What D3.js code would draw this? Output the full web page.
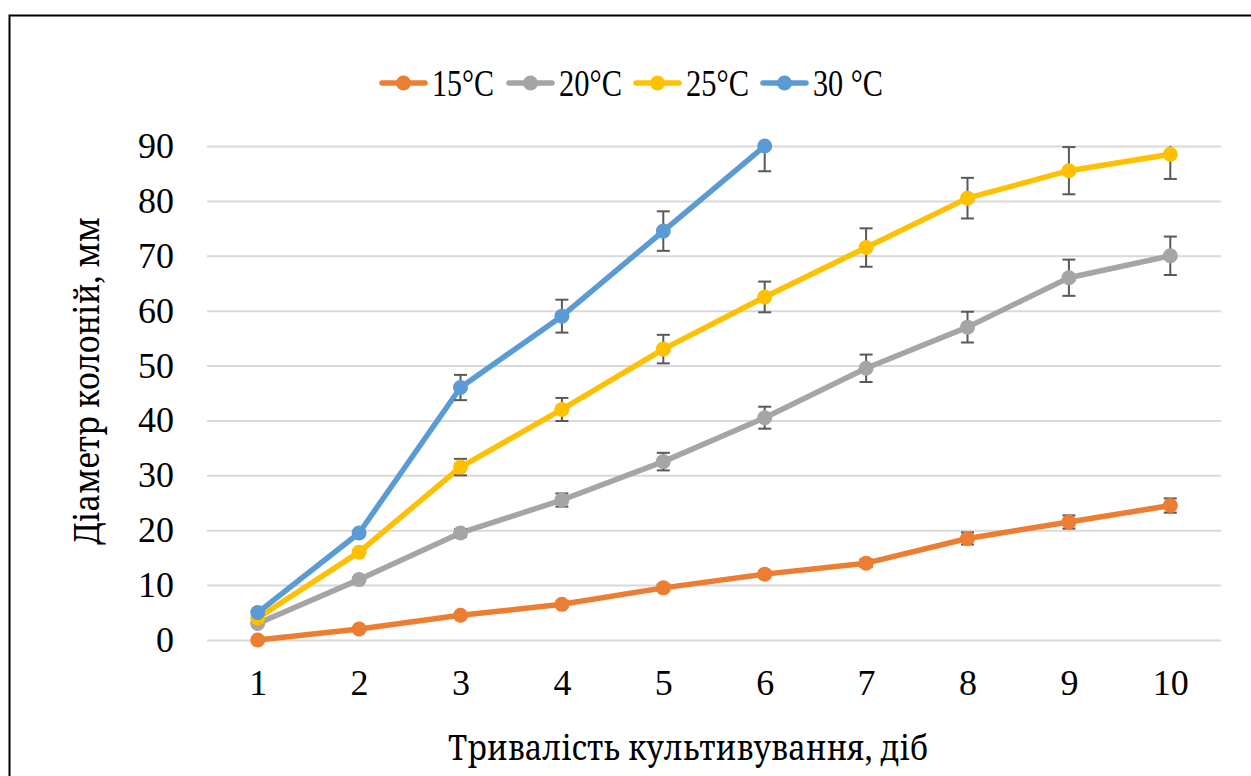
<!DOCTYPE html>
<html>
<head>
<meta charset="utf-8">
<script src="https://cdn.jsdelivr.net/npm/d3@7"></script>
<style>
  body { margin: 0; background: #fff; }
  svg { display: block; }
</style>
</head>
<body>
<div id="chart"></div>
<script>
// data
var days = [1, 2, 3, 4, 5, 6, 7, 8, 9, 10];
var yTicks = [0, 10, 20, 30, 40, 50, 60, 70, 80, 90];
var seriesNames = ["15°C", "20°C", "25°C", "30 °C"];
var seriesColors = ["#ed7d31", "#a5a5a5", "#ffc000", "#5b9bd5"];

var t15 = [0, 2, 4.5, 6.5, 9.5, 12, 14, 18.5, 21.5, 24.5];
var t15err = [0.2, 0.3, 0.4, 0.5, 0.6, 0.6, 0.7, 1.1, 1.2, 1.3];
var t20 = [3, 11, 19.5, 25.5, 32.5, 40.5, 49.5, 57, 66, 70];
var t20err = [0.3, 0.4, 0.7, 1.2, 1.6, 2, 2.5, 2.8, 3.3, 3.5];
var t25 = [4, 16, 31.5, 42, 53, 62.5, 71.5, 80.5, 85.5, 88.5];
var t25err = [0.3, 0.4, 1.5, 2.1, 2.6, 2.8, 3.5, 3.7, 4.3, 4.5];
var t30 = [5, 19.5, 46, 59, 74.5, 90];
var t30err = [0.3, 0.4, 2.3, 3, 3.6, 4.6];

var allValues = [t15, t20, t25, t30];
var allErrors = [t15err, t20err, t25err, t30err];

var FONT = "'Liberation Serif', serif";
var FONT_CYR = "'Noto Serif', serif";
var W = 1251, H = 776;
var margin = { top: 146, right: 30, bottom: 136, left: 207 };
var width = 1221 - margin.left;
var height = 640 - margin.top;

var svg = d3.select("#chart").append("svg")
    .attr("width", W)
    .attr("height", H)
    .style("font-family", FONT);

// outer frame (right and bottom edges fall outside the picture)
svg.append("rect")
    .attr("x", 9.5).attr("y", 15.5)
    .attr("width", W).attr("height", H)
    .attr("fill", "none")
    .attr("stroke", "#000")
    .attr("stroke-width", 2);

var g = svg.append("g")
    .attr("transform", `translate(${margin.left}, ${margin.top})`);

var x = d3.scalePoint()
    .domain(days)
    .range([0, width])
    .padding(0.5);

var y = d3.scaleLinear()
    .domain([0, 90])
    .range([height, 0]);

// clip for error bars (they stop at the top of the plot)
svg.append("defs").append("clipPath").attr("id", "plotclip")
    .append("rect")
    .attr("x", -10).attr("y", 0)
    .attr("width", width + 20).attr("height", height + 10);

// Y gridlines + labels
var yAxis = g.append("g")
    .call(d3.axisLeft(y).tickValues(yTicks).tickSize(-width).tickPadding(33));
yAxis.select(".domain").remove();
yAxis.selectAll(".tick line").attr("stroke", "#d9d9d9").attr("stroke-width", 2);
yAxis.selectAll(".tick text")
    .attr("font-size", 36)
    .attr("fill", "#000")
    .attr("font-family", FONT);

// X labels
var xAxis = g.append("g")
    .attr("transform", `translate(0, ${height})`)
    .call(d3.axisBottom(x).tickSize(0).tickPadding(29));
xAxis.select(".domain").remove();
xAxis.selectAll(".tick text")
    .attr("font-size", 36)
    .attr("fill", "#000")
    .attr("font-family", FONT);

var line = d3.line()
    .x((d, i) => x(days[i]))
    .y(d => y(d));

allValues.forEach(function(vals, s) {
    var sg = g.append("g").attr("class", "series");
    sg.append("path")
        .datum(vals)
        .attr("fill", "none")
        .attr("stroke", seriesColors[s])
        .attr("stroke-width", 5.5)
        .attr("stroke-linejoin", "round")
        .attr("stroke-linecap", "round")
        .attr("d", line);

    // error bars (under the markers)
    var errs = allErrors[s];
    var eb = sg.append("g")
        .attr("clip-path", "url(#plotclip)")
        .attr("stroke", "#595959")
        .attr("stroke-width", 2);
    vals.forEach(function(v, i) {
        var cx = x(days[i]);
        var y1 = y(v + errs[i]), y2 = y(v - errs[i]);
        eb.append("line").attr("x1", cx).attr("x2", cx).attr("y1", y1).attr("y2", y2);
        eb.append("line").attr("x1", cx - 6.5).attr("x2", cx + 6.5).attr("y1", y1).attr("y2", y1);
        eb.append("line").attr("x1", cx - 6.5).attr("x2", cx + 6.5).attr("y1", y2).attr("y2", y2);
    });

    sg.selectAll("circle")
        .data(vals)
        .enter().append("circle")
        .attr("cx", (d, i) => x(days[i]))
        .attr("cy", d => y(d))
        .attr("r", 7.5)
        .attr("fill", seriesColors[s]);
});

// axis titles
svg.append("text")
    .attr("x", 688)
    .attr("y", 760)
    .attr("text-anchor", "middle")
    .attr("font-family", FONT_CYR)
    .attr("font-size", 35)
    .attr("textLength", 480)
    .attr("lengthAdjust", "spacingAndGlyphs")
    .text("Тривалість культивування, діб");

svg.append("text")
    .attr("transform", "translate(99, 381) rotate(-90)")
    .attr("text-anchor", "middle")
    .attr("font-family", FONT_CYR)
    .attr("font-size", 35)
    .attr("textLength", 328)
    .attr("lengthAdjust", "spacingAndGlyphs")
    .text("Діаметр колоній, мм");

// legend
var legendX = [380, 507, 634, 761];
var legendW = [62, 63, 63, 70];
var legend = svg.append("g").attr("transform", "translate(0, 83)");
seriesNames.forEach(function(name, i) {
    var lg = legend.append("g").attr("transform", `translate(${legendX[i]}, 0)`);
    lg.append("line")
        .attr("x1", 2).attr("x2", 45)
        .attr("stroke", seriesColors[i])
        .attr("stroke-width", 5.5)
        .attr("stroke-linecap", "round");
    lg.append("circle")
        .attr("cx", 23.5).attr("r", 7.5)
        .attr("fill", seriesColors[i]);
    lg.append("text")
        .attr("x", 52)
        .attr("y", 13)
        .attr("font-size", 38)
        .attr("textLength", legendW[i])
        .attr("lengthAdjust", "spacingAndGlyphs")
        .text(name);
});
</script>
</body>
</html>
